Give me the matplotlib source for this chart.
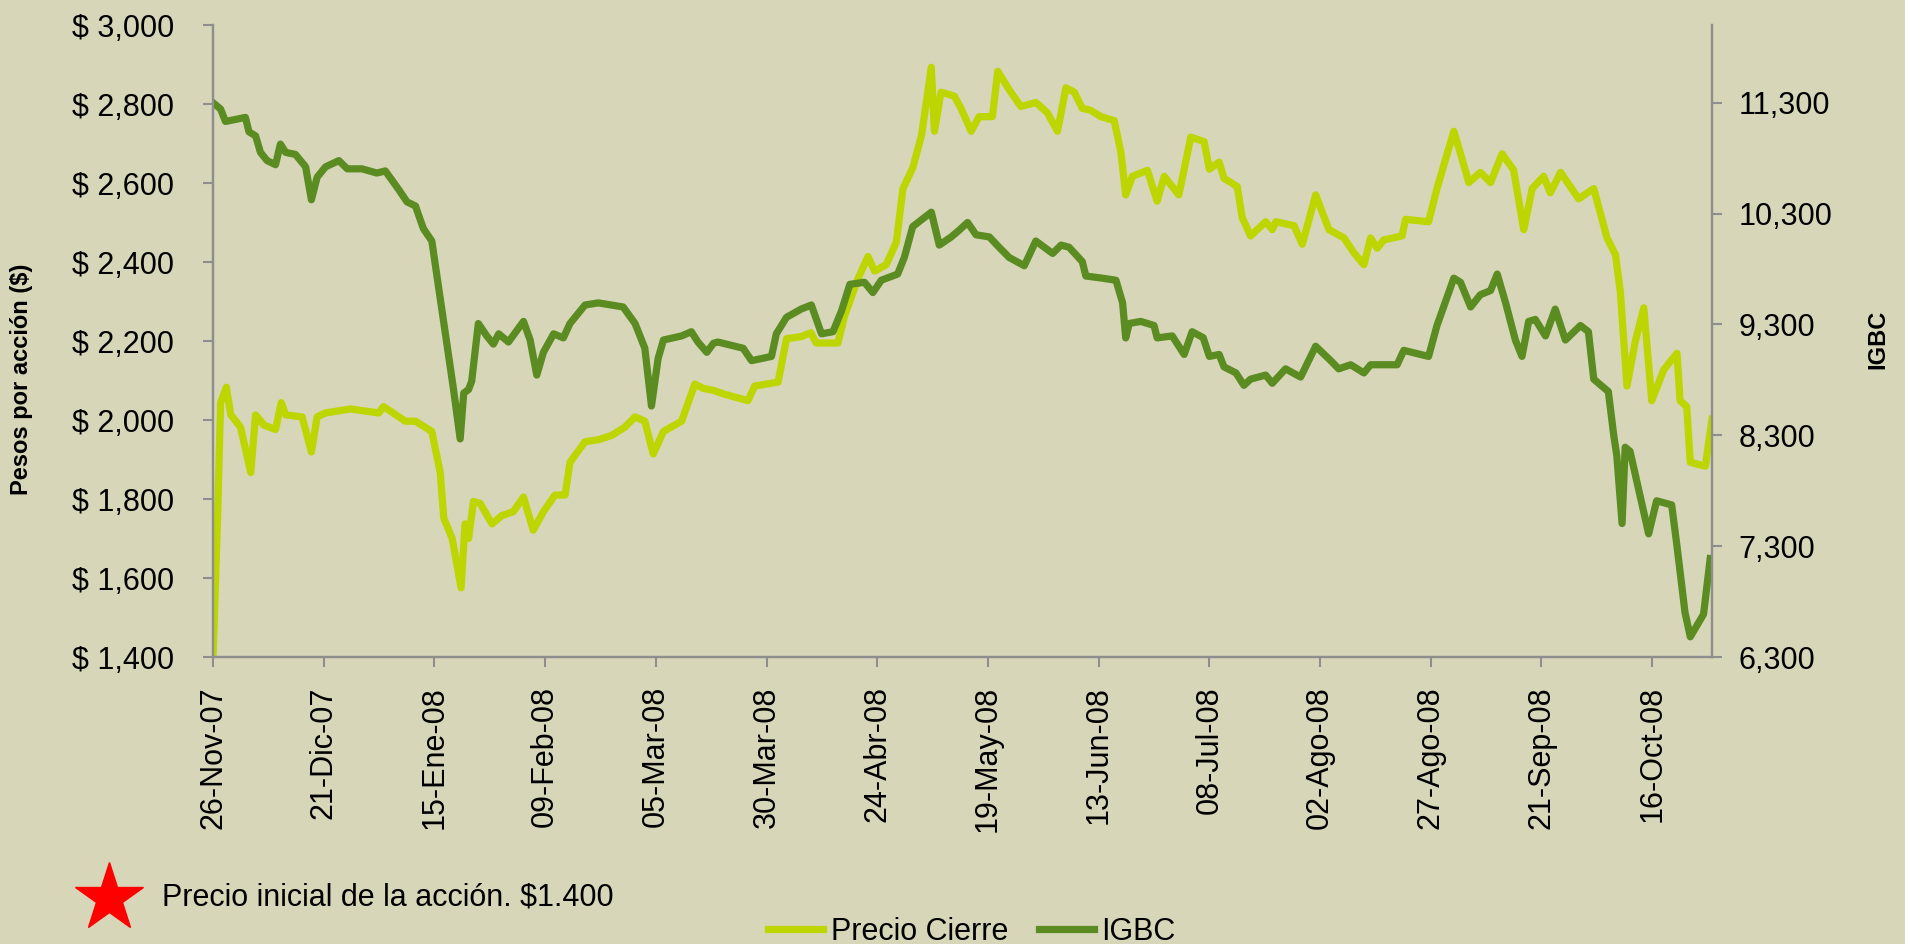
import numpy as np
import pandas as pd
import matplotlib
matplotlib.use('Agg')
import matplotlib.pyplot as plt
from matplotlib.lines import Line2D
from matplotlib.ticker import FuncFormatter

# datos (dias desde el 26-Nov-07)
fecha_inicio = pd.Timestamp('2007-11-26')

precio_dias = [0, 1, 1.7, 3.0, 4.0, 6.2, 8.5, 9.6, 11.5, 14.1, 15.4, 16.4, 20.1, 22.2, 23.5,
               25.4, 31, 37.4, 38.5, 43.4, 45.7, 49.4, 51.3, 52.1, 54, 56, 56.9, 57.7, 58.8,
               60.3, 63, 65.2, 67.8, 70.1, 72.3, 74.6, 77.2, 79.5, 80.6, 84, 87, 90, 93, 95.3,
               97.5, 99.4, 101.7, 105.8, 108.8, 110.7, 113, 115.6, 120.8, 122.3, 127.6, 129.5,
               132.8, 135, 136.2, 141.1, 142.6, 145.6, 147.9, 149.4, 152, 154.3, 155.8, 158,
               160, 162.2, 162.9, 164.4, 167.4, 168.9, 171.2, 173, 176, 177.2, 179.8, 182.4,
               185.8, 188.4, 190.7, 192.6, 194.5, 196.3, 198.2, 200.5, 203.5, 205, 206.1,
               207.6, 211, 213.2, 214.8, 218.1, 220.8, 223.8, 225, 227.2, 228.3, 231.3, 232.4,
               234.3, 237.7, 239.2, 240, 244.1, 246, 249, 252, 255.4, 257.6, 259.9, 261.4,
               262.9, 264.4, 268.5, 269.3, 274.5, 276.4, 280.2, 281.3, 283.6, 286.2, 288.5,
               291.1, 293.7, 296, 297.9, 300.5, 302, 304.3, 308.4, 311.8, 314.8, 316.7, 317.8,
               319.3, 321.2, 323.1, 324.9, 327.6, 330.6, 331.3, 332.8, 333.6, 337, 338.5]
precio_cierre = [1400, 1750, 2044, 2083, 2013, 1982, 1867, 2013, 1987, 1976, 2044, 2013, 2008,
                 1919, 2008, 2018, 2028, 2018, 2034, 1997, 1997, 1971, 1867, 1752, 1700, 1575,
                 1737, 1700, 1794, 1789, 1737, 1758, 1768, 1805, 1721, 1768, 1810, 1810, 1893,
                 1945, 1950, 1961, 1982, 2008, 1997, 1914, 1971, 1997, 2091, 2080, 2075, 2065,
                 2049, 2086, 2096, 2206, 2211, 2221, 2195, 2195, 2263, 2357, 2414, 2377, 2393,
                 2450, 2586, 2638, 2721, 2893, 2731, 2830, 2820, 2789, 2731, 2768, 2768, 2883,
                 2836, 2794, 2804, 2778, 2731, 2841, 2830, 2789, 2784, 2768, 2758, 2679, 2570,
                 2617, 2632, 2554, 2617, 2570, 2716, 2705, 2635, 2653, 2612, 2591, 2513, 2466,
                 2502, 2482, 2502, 2492, 2445, 2570, 2482, 2461, 2424, 2393, 2461, 2435, 2456,
                 2466, 2508, 2502, 2586, 2731, 2690, 2601, 2627, 2601, 2674, 2633, 2482, 2586,
                 2617, 2575, 2627, 2560, 2586, 2461, 2419, 2325, 2086, 2200, 2284, 2049, 2127,
                 2169, 2049, 2034, 1893, 1883, 2002]

igbc_dias = [0, 1.7, 2.8, 5.1, 7.3, 8.1, 9.6, 10.7, 12.2, 14.1, 15.2, 16.4, 18.6, 20.9, 22.2,
             23.5, 25.4, 28.4, 30.3, 33.6, 37, 38.9, 41.9, 43.8, 45.7, 47.5, 49.4, 50.9, 52.4,
             54.3, 55.8, 56.6, 57.7, 58.4, 59.9, 61.8, 63.3, 64.5, 66.7, 70.1, 71.6, 73.1, 74.6,
             76.9, 79.1, 80.6, 84, 87, 92.6, 95.3, 97.5, 99, 100.5, 101.7, 105.8, 108, 109.5,
             111.5, 113, 114, 119.7, 121.6, 126.1, 127.2, 129.5, 132.8, 135.1, 137.4, 140,
             141.9, 143.8, 147.1, 149, 150.9, 154.6, 156.1, 158, 162.2, 164, 166.7, 168.5,
             170.4, 172.3, 175.3, 177.5, 179.8, 183.2, 185.8, 189.6, 191.5, 193.3, 196.3,
             197.1, 200.8, 203.9, 205.4, 206.1, 206.9, 209.5, 212.5, 213.2, 216.6, 219.3,
             221.1, 223.6, 225, 227.2, 228.3, 231, 232.8, 234.3, 237.7, 239.2, 242.2, 245.6,
             249, 252.4, 254.2, 256.9, 259.9, 261.4, 267.4, 268.9, 274.5, 276.4, 280.2, 281.7,
             284, 286.2, 288.5, 290, 291.9, 294.1, 295.6, 297.1, 298.6, 300.9, 303.1, 305.4,
             308.8, 310.6, 311.8, 315.1, 316.3, 317, 318.2, 318.9, 320, 321.9, 324.2, 326,
             329.4, 330.6, 332.4, 333.6, 336.6, 338.1]
igbc = [11298, 11242, 11130, 11149, 11167, 11037, 11000, 10851, 10777, 10740, 10926, 10851,
        10833, 10721, 10424, 10628, 10721, 10777, 10703, 10703, 10665, 10684, 10517, 10405,
        10368, 10163, 10052, 9643, 9234, 8713, 8267, 8680, 8713, 8787, 9308, 9196, 9122, 9215,
        9141, 9327, 9159, 8843, 9048, 9215, 9178, 9308, 9475, 9494, 9457, 9308, 9085, 8564,
        8992, 9159, 9196, 9234, 9141, 9048, 9130, 9141, 9085, 8973, 9011, 9215, 9364, 9438,
        9475, 9215, 9234, 9420, 9661, 9680, 9587, 9698, 9754, 9903, 10182, 10312, 10015,
        10089, 10150, 10219, 10108, 10089, 9996, 9903, 9829, 10052, 9940, 10015, 9996, 9866,
        9736, 9717, 9698, 9494, 9178, 9308, 9327, 9290, 9178, 9196, 9029, 9234, 9180, 9011,
        9029, 8917, 8862, 8750, 8806, 8843, 8769, 8899, 8825, 9103, 8973, 8899, 8936, 8862,
        8936, 8936, 9066, 9011, 9290, 9717, 9680, 9457, 9568, 9605, 9754, 9494, 9159, 9011,
        9327, 9345, 9196, 9438, 9159, 9290, 9234, 8806, 8694, 8304, 8118, 7504, 8192, 8155,
        7820, 7411, 7709, 7672, 7300, 6705, 6482, 6686, 7188]

etiquetas_x = ['26-Nov-07', '21-Dic-07', '15-Ene-08', '09-Feb-08', '05-Mar-08', '30-Mar-08',
               '24-Abr-08', '19-May-08', '13-Jun-08', '08-Jul-08', '02-Ago-08', '27-Ago-08',
               '21-Sep-08', '16-Oct-08']
ticks_precio = list(range(1400, 3001, 200))
ticks_igbc = list(range(6300, 11301, 1000))

plt.rcParams['font.family'] = ['Liberation Sans', 'DejaVu Sans']

fondo = '#D8D6B9'
gris = '#8E8E8E'
amarillo = '#BDD500'
verde = '#5B8C22'

fig = plt.figure(figsize=(19.06, 9.44), dpi=100, facecolor=fondo)
ax = fig.add_axes([0.1118, 0.304, 0.7864, 0.6695])
ax.set_facecolor('none')

x_precio = fecha_inicio + pd.to_timedelta(precio_dias, unit='D')
x_igbc = fecha_inicio + pd.to_timedelta(igbc_dias, unit='D')

l1, = ax.plot(x_precio, precio_cierre, color=amarillo, lw=5.2, solid_joinstyle='round')
ax.set_ylim(1400, 3000)
ax.set_yticks(ticks_precio)
ax.yaxis.set_major_formatter(FuncFormatter(lambda v, p: '$ {:,.0f}'.format(v)))
ax.set_xlim(fecha_inicio, fecha_inicio + pd.Timedelta(days=338.5))
ax.set_xticks(pd.date_range(fecha_inicio, periods=len(etiquetas_x), freq='25D'))
ax.set_xticklabels(etiquetas_x, rotation=90)

ax2 = ax.twinx()
l2, = ax2.plot(x_igbc, igbc, color=verde, lw=5.2, solid_joinstyle='round')
ax2.set_ylim(6300, 12000)
ax2.set_yticks(ticks_igbc)
ax2.yaxis.set_major_formatter(FuncFormatter(lambda v, p: '{:,.0f}'.format(v)))

for a in (ax, ax2):
    a.spines['top'].set_visible(False)
    for s in ('left', 'right', 'bottom'):
        a.spines[s].set_color(gris)
        a.spines[s].set_linewidth(1.6)
ax.tick_params(axis='y', labelsize=22, length=7, width=1.5, color=gris, pad=21)
ax.tick_params(axis='x', labelsize=22, length=7, width=1.5, color=gris, pad=14)
ax2.tick_params(axis='y', labelsize=22, length=7, width=1.5, color=gris, pad=12)

fig.text(0.0115, 0.5985, 'Pesos por acción ($)', rotation=90, ha='center', va='center',
         fontsize=17, fontweight='bold')
fig.text(0.985, 0.64, 'IGBC', rotation=90, ha='center', va='center',
         fontsize=17, fontweight='bold')

# estrella del precio inicial
fig.add_artist(Line2D([0.057], [0.049], marker='*', markersize=52, color='#FF0000',
                      markeredgecolor='#FF0000', transform=fig.transFigure))
fig.text(0.085, 0.049, 'Precio inicial de la acción. $1.400', ha='left', va='center',
         fontsize=22)

fig.legend([l1, l2], ['Precio Cierre', 'IGBC'], loc='center', bbox_to_anchor=(0.51, 0.013),
           ncol=2, frameon=False, fontsize=22, handlelength=1.8, handletextpad=0.25,
           columnspacing=1.0)

fig.savefig('out.png', dpi=100, facecolor=fondo)
